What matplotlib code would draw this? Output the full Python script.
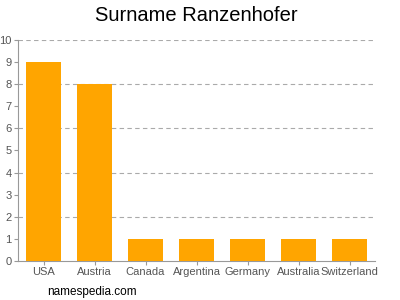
import matplotlib
matplotlib.use("Agg")
import matplotlib.pyplot as plt

plt.rcParams["font.family"] = ["Liberation Sans", "DejaVu Sans"]

categories = ["USA", "Austria", "Canada", "Argentina", "Germany", "Australia", "Switzerland"]
values = [9, 8, 1, 1, 1, 1, 1]
yticks = list(range(0, 11))

fig = plt.figure(figsize=(4, 3), dpi=100)
ax = fig.add_axes([0.045, 0.13, 0.8925, 0.737])
x = list(range(len(categories)))
ax.bar(x, values, width=0.69, color="#FFA500", zorder=3)
ax.set_xlim(-0.5, len(categories) - 0.5)
ax.set_ylim(0, 10)
ax.set_yticks(yticks)
ax.set_xticks(x)
ax.set_xticklabels(categories)
for v in [2, 4, 6, 8, 10]:
    ax.axhline(v, color="#aaaaaa", linestyle=(0, (4, 3)), linewidth=0.8, zorder=1)
for s in ["top", "right"]:
    ax.spines[s].set_visible(False)
for s in ["left", "bottom"]:
    ax.spines[s].set_color("#999999")
    ax.spines[s].set_linewidth(0.8)
ax.tick_params(axis="both", colors="#999999", labelcolor="#555555", labelsize=8, length=3, width=0.8, pad=1.5)
fig.text(0.49, 0.948, "Surname Ranzenhofer", ha="center", va="center", fontsize=14.5, color="#000000")
fig.text(0.118, 0.027, "namespedia.com", ha="left", va="center", fontsize=8.5, color="#000000")
fig.savefig("out.png", dpi=100)
